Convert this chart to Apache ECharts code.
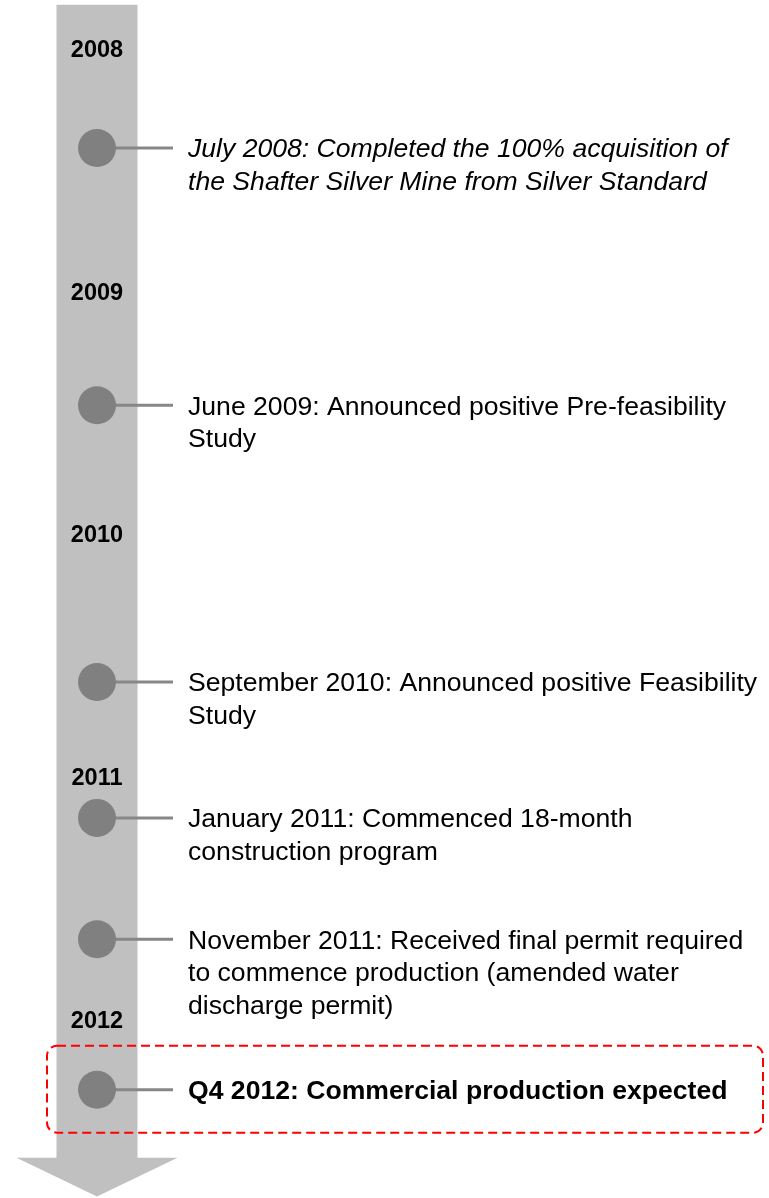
<!DOCTYPE html>
<html><head><meta charset="utf-8">
<script src="https://cdn.jsdelivr.net/npm/echarts@6/dist/echarts.min.js"></script>
<style>html,body{margin:0;padding:0;background:#fff}#c{width:769px;height:1198px}</style>
</head><body><div id="c"></div>
<script>
// ---- data ----
const years = [2008, 2009, 2010, 2011, 2012];
const eventTimes = [2008.41, 2009.47, 2010.61, 2011.17, 2011.67, 2012.29];
const eventTexts = [
  'July 2008: Completed the 100% acquisition of\nthe Shafter Silver Mine from Silver Standard',
  'June 2009: Announced positive Pre-feasibility\nStudy',
  'September 2010: Announced positive Feasibility\nStudy',
  'January 2011: Commenced 18-month\nconstruction program',
  'November 2011: Received final permit required\nto commence production (amended water\ndischarge permit)',
  'Q4 2012: Commercial production expected'
];
const timelineRange = [2007.82, 2012.57, 2012.73]; // start, arrow base, arrow tip

// ---- layout / style ----
const FONT = '"Liberation Sans", Arial, Helvetica, sans-serif';
const L = { axisX: 97, shaftHalf: 40.5, headHalf: 80.5, connEnd: 173, textX: 188, r: 19,
            lineH: 32.5, boxL: 47, boxR: 763, boxUp: 44, boxDown: 43 };
const ITALIC = [0], HIGHLIGHT = [5];

const chart = echarts.init(document.getElementById('c'), null, {renderer: 'canvas'});
chart.setOption({
  animation: false,
  backgroundColor: '#ffffff',
  grid: {left: 0, right: 0, top: 0, bottom: 1.5},
  xAxis: {type: 'value', min: 0, max: 769, show: false},
  yAxis: {type: 'value', min: 2007.8, max: 2012.73, inverse: true, show: false},
  series: [
    {
      type: 'custom', coordinateSystem: 'cartesian2d', clip: false, z: 1,
      data: [timelineRange],
      renderItem: function (params, api) {
        const top = api.coord([L.axisX, api.value(0)]);
        const base = api.coord([L.axisX, api.value(1)]);
        const tip = api.coord([L.axisX, api.value(2)]);
        const cx = top[0];
        return {
          type: 'polygon',
          shape: {points: [
            [cx - L.shaftHalf, top[1]], [cx + L.shaftHalf, top[1]],
            [cx + L.shaftHalf, base[1]], [cx + L.headHalf, base[1]],
            [cx, tip[1]], [cx - L.headHalf, base[1]], [cx - L.shaftHalf, base[1]]
          ]},
          style: {fill: '#c0c0c0'}
        };
      }
    },
    {
      type: 'custom', coordinateSystem: 'cartesian2d', clip: false, z: 2,
      data: years.map(y => [y]),
      renderItem: function (params, api) {
        const p = api.coord([L.axisX, api.value(0)]);
        return {
          type: 'text', x: p[0], y: p[1] + 2,
          style: {text: String(years[params.dataIndex]), fontFamily: FONT, fontSize: 23.5,
                  fontWeight: 'bold', fill: '#000', align: 'center', verticalAlign: 'middle'}
        };
      }
    },
    {
      type: 'custom', coordinateSystem: 'cartesian2d', clip: false, z: 3,
      data: eventTimes.map(t => [t]),
      renderItem: function (params, api) {
        const i = params.dataIndex;
        const p = api.coord([L.axisX, api.value(0)]);
        const cx = p[0], cy = p[1];
        const kids = [
          {type: 'line', shape: {x1: cx, y1: cy, x2: L.connEnd, y2: cy},
           style: {stroke: '#878787', lineWidth: 3}},
          {type: 'circle', shape: {cx: cx, cy: cy, r: L.r}, style: {fill: '#808080'}},
          {type: 'text', x: L.textX, y: cy + 2 - L.lineH / 2,
           style: {text: eventTexts[i], fontFamily: FONT, fontSize: 26.6,
                   fontStyle: ITALIC.includes(i) ? 'italic' : 'normal',
                   fontWeight: HIGHLIGHT.includes(i) ? 'bold' : 'normal',
                   fill: '#000', align: 'left', verticalAlign: 'top', lineHeight: L.lineH}}
        ];
        if (HIGHLIGHT.includes(i)) {
          kids.push({type: 'rect',
            shape: {x: L.boxL, y: cy - L.boxUp, width: L.boxR - L.boxL, height: L.boxUp + L.boxDown, r: 10},
            style: {fill: 'none', stroke: '#ff0000', lineWidth: 2, lineDash: [9, 5]}});
        }
        return {type: 'group', children: kids};
      }
    }
  ]
});
</script></body></html>
